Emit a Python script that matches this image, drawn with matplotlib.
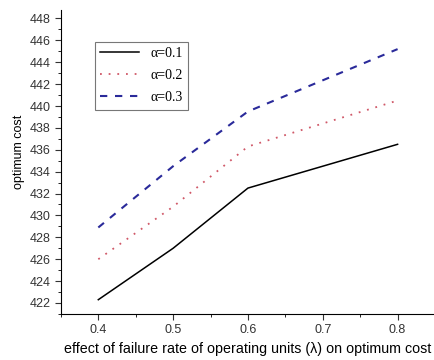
import numpy as np
import matplotlib.pyplot as plt
from matplotlib.ticker import MultipleLocator

# failure rate values and optimum cost
lam = [0.4, 0.5, 0.6, 0.8]
cost_a1 = [422.3, 427.0, 432.5, 436.5]
cost_a2 = [426.0, 430.8, 436.3, 440.5]
cost_a3 = [428.9, 434.5, 439.5, 445.2]
labels = ['\u03b1=0.1', '\u03b1=0.2', '\u03b1=0.3']

plt.rcParams['font.family'] = ['Liberation Sans', 'DejaVu Sans']

fig = plt.figure(figsize=(4.35, 3.6), dpi=100)
ax = fig.add_axes([0.14, 0.128, 0.86, 0.845])

ax.plot(lam, cost_a1, color='black', lw=1.1, ls='-', label=labels[0])
ax.plot(lam, cost_a2, color='#d05868', lw=1.3, ls=(0, (1, 3.8)), label=labels[1])
ax.plot(lam, cost_a3, color='#2a2a9a', lw=1.5, ls=(0, (3.5, 3.7)), label=labels[2])

ax.set_xlim(0.35, 0.85)
ax.set_ylim(421, 448.8)
ax.xaxis.set_major_locator(MultipleLocator(0.1))
ax.xaxis.set_minor_locator(MultipleLocator(0.05))
ax.yaxis.set_major_locator(MultipleLocator(2))
ax.yaxis.set_minor_locator(MultipleLocator(1))
ax.tick_params(which='major', direction='out', length=4, labelsize=9, colors='#333333')
ax.tick_params(which='minor', direction='out', length=2.5)
ax.spines['top'].set_visible(False)
ax.spines['right'].set_visible(False)

ax.set_xlabel('effect of failure rate of operating units (\u03bb) on optimum cost', fontsize=10.3)
ax.set_ylabel('optimum cost', fontsize=9)
ax.yaxis.set_label_coords(-0.095, 0.533)

leg = ax.legend(loc='upper left', bbox_to_anchor=(0.091, 0.895), borderaxespad=0,
                fancybox=False, edgecolor='#555555', handlelength=2.8, labelspacing=0.65,
                prop={'family': ['Liberation Serif', 'DejaVu Serif'], 'size': 10})
leg.get_frame().set_linewidth(0.8)

fig.savefig('out.png', dpi=100)
